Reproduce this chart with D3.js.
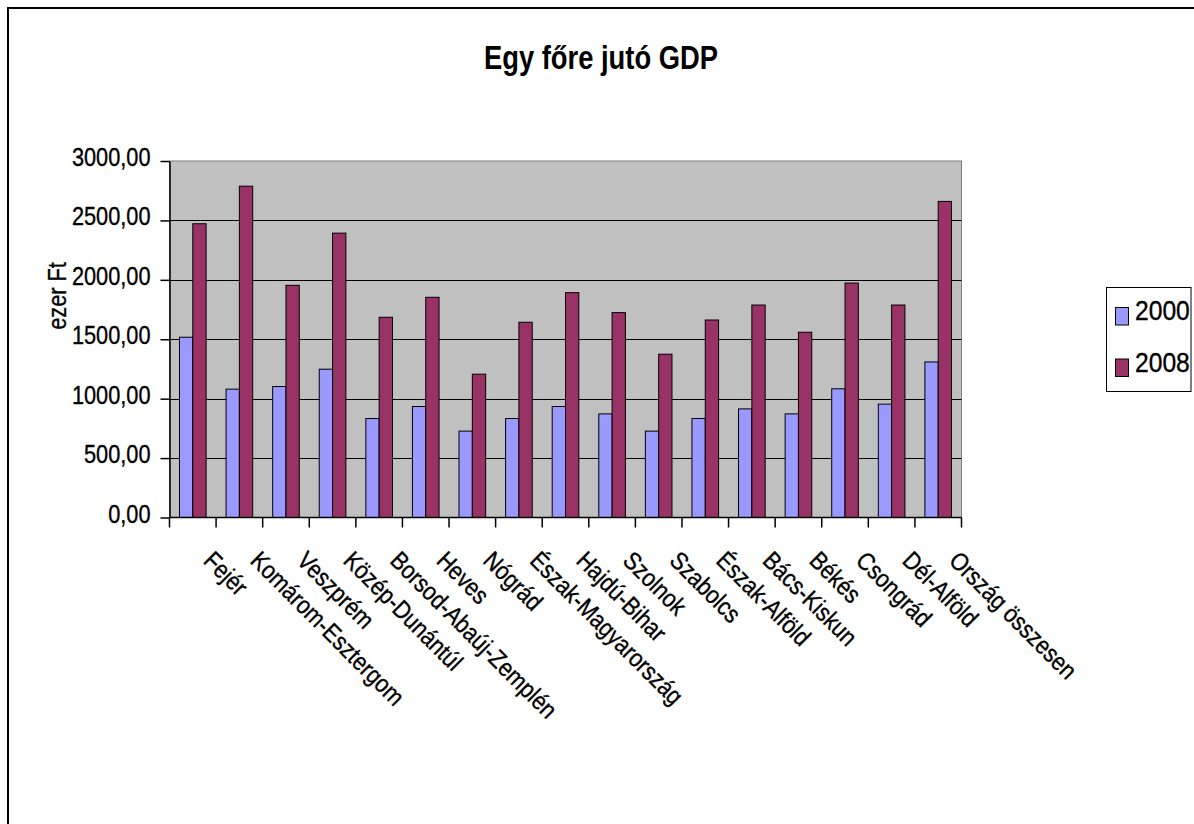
<!DOCTYPE html>
<html>
<head>
<meta charset="utf-8">
<script src="https://cdn.jsdelivr.net/npm/d3@7"></script>
<style>
  html, body { margin: 0; padding: 0; background: #fff; }
  svg { display: block; }
  text { font-family: "Liberation Sans", Arial, sans-serif; fill: #000; }
  .lbl { stroke: #000; stroke-width: 0.35px; }
</style>
</head>
<body>
<svg id="chart" width="1194" height="824"></svg>
<script>
// Regions (megyék, régiók) and the national total
const categories = [
  "Fejér", "Komárom-Esztergom", "Veszprém", "Közép-Dunántúl",
  "Borsod-Abaúj-Zemplén", "Heves", "Nógrád", "Észak-Magyarország",
  "Hajdú-Bihar", "Szolnok", "Szabolcs", "Észak-Alföld",
  "Bács-Kiskun", "Békés", "Csongrád", "Dél-Alföld", "Ország összesen"
];

// Per-capita GDP, thousand HUF
const gdp2000 = [1517, 1080, 1102, 1248, 833, 934, 727, 833, 934, 872, 727, 833, 914, 872, 1083, 954, 1309];
const gdp2008 = [2472, 2788, 1954, 2393, 1685, 1853, 1206, 1643, 1892, 1724, 1374, 1662, 1788, 1559, 1973, 1788, 2660];

const seriesNames = ["2000", "2008"];
const yTicks = [0, 500, 1000, 1500, 2000, 2500, 3000];

const colors = { "2000": "#9999FF", "2008": "#993366" };

const rows = categories.map((c, i) => ({ cat: c, "2000": gdp2000[i], "2008": gdp2008[i] }));

const svg = d3.select("#chart");

// outer chart frame
svg.append("rect")
  .attr("x", 8).attr("y", 8)
  .attr("width", 1300).attr("height", 1000)
  .attr("fill", "none").attr("stroke", "#000").attr("stroke-width", 2);

const plot = { left: 169.5, right: 961.5, top: 161, bottom: 517.5 };

const x = d3.scaleBand().domain(categories).range([plot.left, plot.right]).padding(0);
const bw = x.bandwidth();
const xs = d3.scaleBand().domain(seriesNames)
  .range([bw * 0.2143, bw * 0.7857]).padding(0);
const y = d3.scaleLinear().domain([0, 3000]).range([plot.bottom, plot.top]);

const hu = d3.formatLocale({ decimal: ",", thousands: "", grouping: [3], currency: ["", ""] });
const fmt = hu.format(".2f");

// plot background
svg.append("rect")
  .attr("x", plot.left).attr("y", plot.top)
  .attr("width", plot.right - plot.left).attr("height", plot.bottom - plot.top)
  .attr("fill", "#C0C0C0").attr("stroke", "#808080").attr("stroke-width", 1);

// horizontal gridlines
svg.append("g").selectAll("line")
  .data(yTicks.filter(t => t > 0 && t < 3000))
  .join("line")
  .attr("x1", plot.left).attr("x2", plot.right)
  .attr("y1", d => Math.round(y(d)) + 0.5).attr("y2", d => Math.round(y(d)) + 0.5)
  .attr("stroke", "#000").attr("stroke-width", 1);

// bars
const groups = svg.append("g").selectAll("g")
  .data(rows).join("g")
  .attr("transform", d => `translate(${x(d.cat)},0)`);

groups.selectAll("rect")
  .data(d => seriesNames.map(s => ({ s, v: d[s] })))
  .join("rect")
  .attr("x", d => xs(d.s))
  .attr("width", xs.bandwidth())
  .attr("y", d => y(d.v))
  .attr("height", d => y(0) - y(d.v))
  .attr("fill", d => colors[d.s])
  .attr("stroke", "#000").attr("stroke-width", 1);

// y axis
const yAxis = svg.append("g")
  .attr("transform", `translate(${plot.left},0)`)
  .call(d3.axisLeft(y).tickValues(yTicks).tickFormat(fmt).tickSize(9).tickSizeOuter(0));
yAxis.select(".domain").attr("stroke", "#000").attr("stroke-width", 1.5);
yAxis.selectAll(".tick line").attr("stroke", "#000").attr("stroke-width", 1.5);
yAxis.selectAll(".tick text")
  .attr("x", null).attr("dy", null)
  .attr("class", "lbl")
  .attr("font-size", 25)
  .attr("font-family", "Liberation Sans, Arial, sans-serif")
  .attr("text-anchor", "end")
  .attr("transform", "translate(-19,4.5) scale(0.87,1)");

// x axis with ticks on category boundaries
const xAxisG = svg.append("g");
xAxisG.append("line")
  .attr("x1", plot.left).attr("x2", plot.right)
  .attr("y1", plot.bottom).attr("y2", plot.bottom)
  .attr("stroke", "#000").attr("stroke-width", 1.5);
const boundaries = categories.map(c => x(c)).concat([plot.right]);
xAxisG.selectAll("line.tk")
  .data(boundaries).join("line").attr("class", "tk")
  .attr("x1", d => d).attr("x2", d => d)
  .attr("y1", plot.bottom).attr("y2", plot.bottom + 10)
  .attr("stroke", "#000").attr("stroke-width", 1.5);

// rotated category labels
xAxisG.selectAll("text")
  .data(categories).join("text")
  .attr("class", "lbl")
  .attr("font-size", 25)
  .attr("text-anchor", "start")
  .attr("transform", d => `translate(${x(d) + bw / 2 + 9.5},562) rotate(45) scale(0.87,1)`)
  .text(d => d);

// axis title
svg.append("text")
  .attr("class", "lbl")
  .attr("font-size", 25)
  .attr("text-anchor", "middle")
  .attr("transform", "translate(66,296) rotate(-90) scale(0.87,1)")
  .text("ezer Ft");

// chart title
svg.append("text")
  .attr("x", 601).attr("y", 69)
  .attr("font-size", 34)
  .attr("font-weight", "bold")
  .attr("text-anchor", "middle")
  .attr("textLength", 234)
  .attr("lengthAdjust", "spacingAndGlyphs")
  .text("Egy főre jutó GDP");

// legend
const legend = svg.append("g");
legend.append("rect")
  .attr("x", 1106.5).attr("y", 287.5).attr("width", 84.5).attr("height", 104)
  .attr("fill", "#fff").attr("stroke", "#000").attr("stroke-width", 1);
const li = legend.selectAll("g.item").data(seriesNames).join("g").attr("class", "item")
  .attr("transform", (d, i) => `translate(0,${i * 51.5})`);
li.append("rect")
  .attr("x", 1115.5).attr("y", 307.5).attr("width", 13).attr("height", 17.5)
  .attr("fill", d => colors[d]).attr("stroke", "#000").attr("stroke-width", 1);
li.append("text")
  .attr("class", "lbl")
  .attr("font-size", 28)
  .attr("transform", "translate(1135,320) scale(0.88,1)")
  .text(d => d);
</script>
</body>
</html>
